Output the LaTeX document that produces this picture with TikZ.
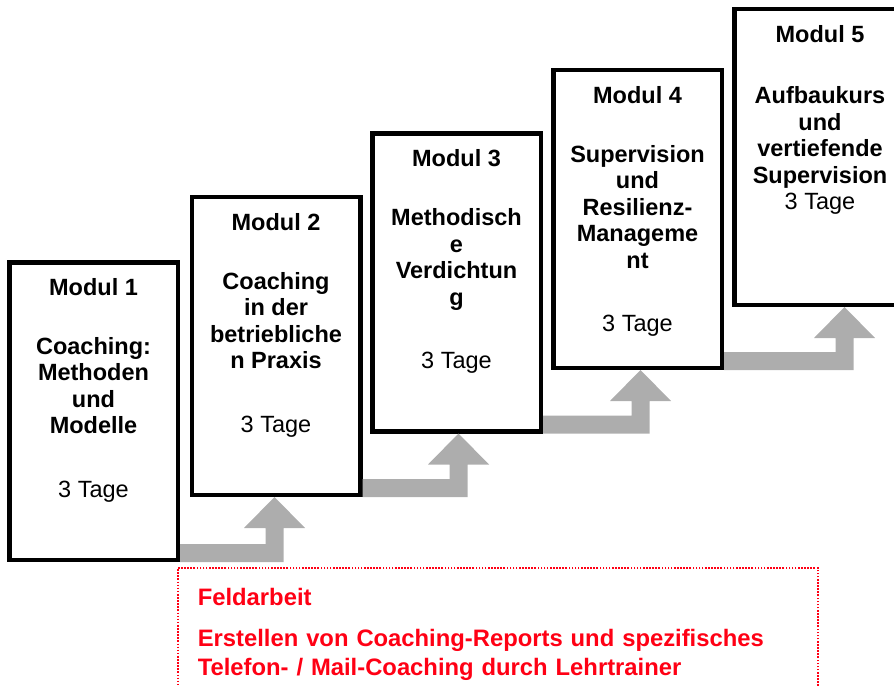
\documentclass[tikz,border=0pt]{standalone}
\usepackage{fontspec}
\setmainfont{Liberation Sans}
\usetikzlibrary{positioning,calc}

\definecolor{stepgrey}{RGB}{173,173,173}
\definecolor{feldred}{RGB}{255,0,20}

\tikzset{
  modul/.style={draw, line width=4.5pt, fill=white, minimum width=168.5pt, minimum height=297.5pt, inner sep=0pt},
  modtext/.style={font=\fontsize{23.5}{26.5}\selectfont\bfseries, align=center, inner sep=0pt},
  feld/.style={draw=feldred, line width=1.6pt, dash pattern=on 1.6pt off 1.5pt, anchor=north west,
    inner xsep=20pt, inner ysep=20pt, text width=600pt, align=left, text=feldred,
    font=\fontsize{23.8}{29}\selectfont\bfseries},
}

% grey step arrow: #1 from box, #2 to box, #3 shaft centre from left edge of #2
\newcommand{\steparrow}[3]{
  \path (#2.south west) ++(#3,0) coordinate (#1tip);
  \fill[stepgrey] (#1.south east) -- ++(0,-18) -| ($(#1tip)+(-9,31)$) -- ++(-21.5,0) -- (#1tip)
    -- ++(30.5,31) -- ++(-21.5,0) |- (#1.south east) -- cycle;
}

\begin{document}
\begin{tikzpicture}[x=1pt, y=-1pt]
    \clip (0,0) rectangle (894,687);

    \node[modul] (m1) at (93.5,411) {};
    \node[modul] (m2) at (276,346) {};
    \node[modul] (m3) at (456.5,282.5) {};
    \node[modul] (m4) at (637.5,219) {};
    \node[modul, minimum width=171.5pt, minimum height=295.5pt] (m5) at (820,157) {};

    \node[modtext, below=18pt of m1.north] (t1) {Modul 1\\[32.5pt]Coaching:\\Methoden\\und\\Modelle\\[37pt]\mdseries 3 Tage};
    \node[modtext, below=18pt of m2.north] (t2) {Modul 2\\[32.5pt]Coaching\\in der\\betriebliche\\n Praxis\\[37pt]\mdseries 3 Tage};
    \node[modtext, below=18pt of m3.north] (t3) {Modul 3\\[32.5pt]Methodisch\\e\\Verdichtun\\g\\[37pt]\mdseries 3 Tage};
    \node[modtext, below=18pt of m4.north] (t4) {Modul 4\\[32.5pt]Supervision\\und\\Resilienz-\\Manageme\\nt\\[37pt]\mdseries 3 Tage};
    \node[modtext, below=18pt of m5.north] (t5) {Modul 5\\[35pt]Aufbaukurs\\und\\vertiefende\\Supervision\\\mdseries 3 Tage};

    \steparrow{m1}{m2}{85}
    \steparrow{m2}{m3}{88.5}
    \steparrow{m3}{m4}{89.5}
    \steparrow{m4}{m5}{112.5}

    \node[feld] (feld) at (177,567) {Feldarbeit\\[12pt]Erstellen von Coaching-Reports und spezifisches\\Telefon- / Mail-Coaching durch Lehrtrainer};
\end{tikzpicture}
\end{document}
